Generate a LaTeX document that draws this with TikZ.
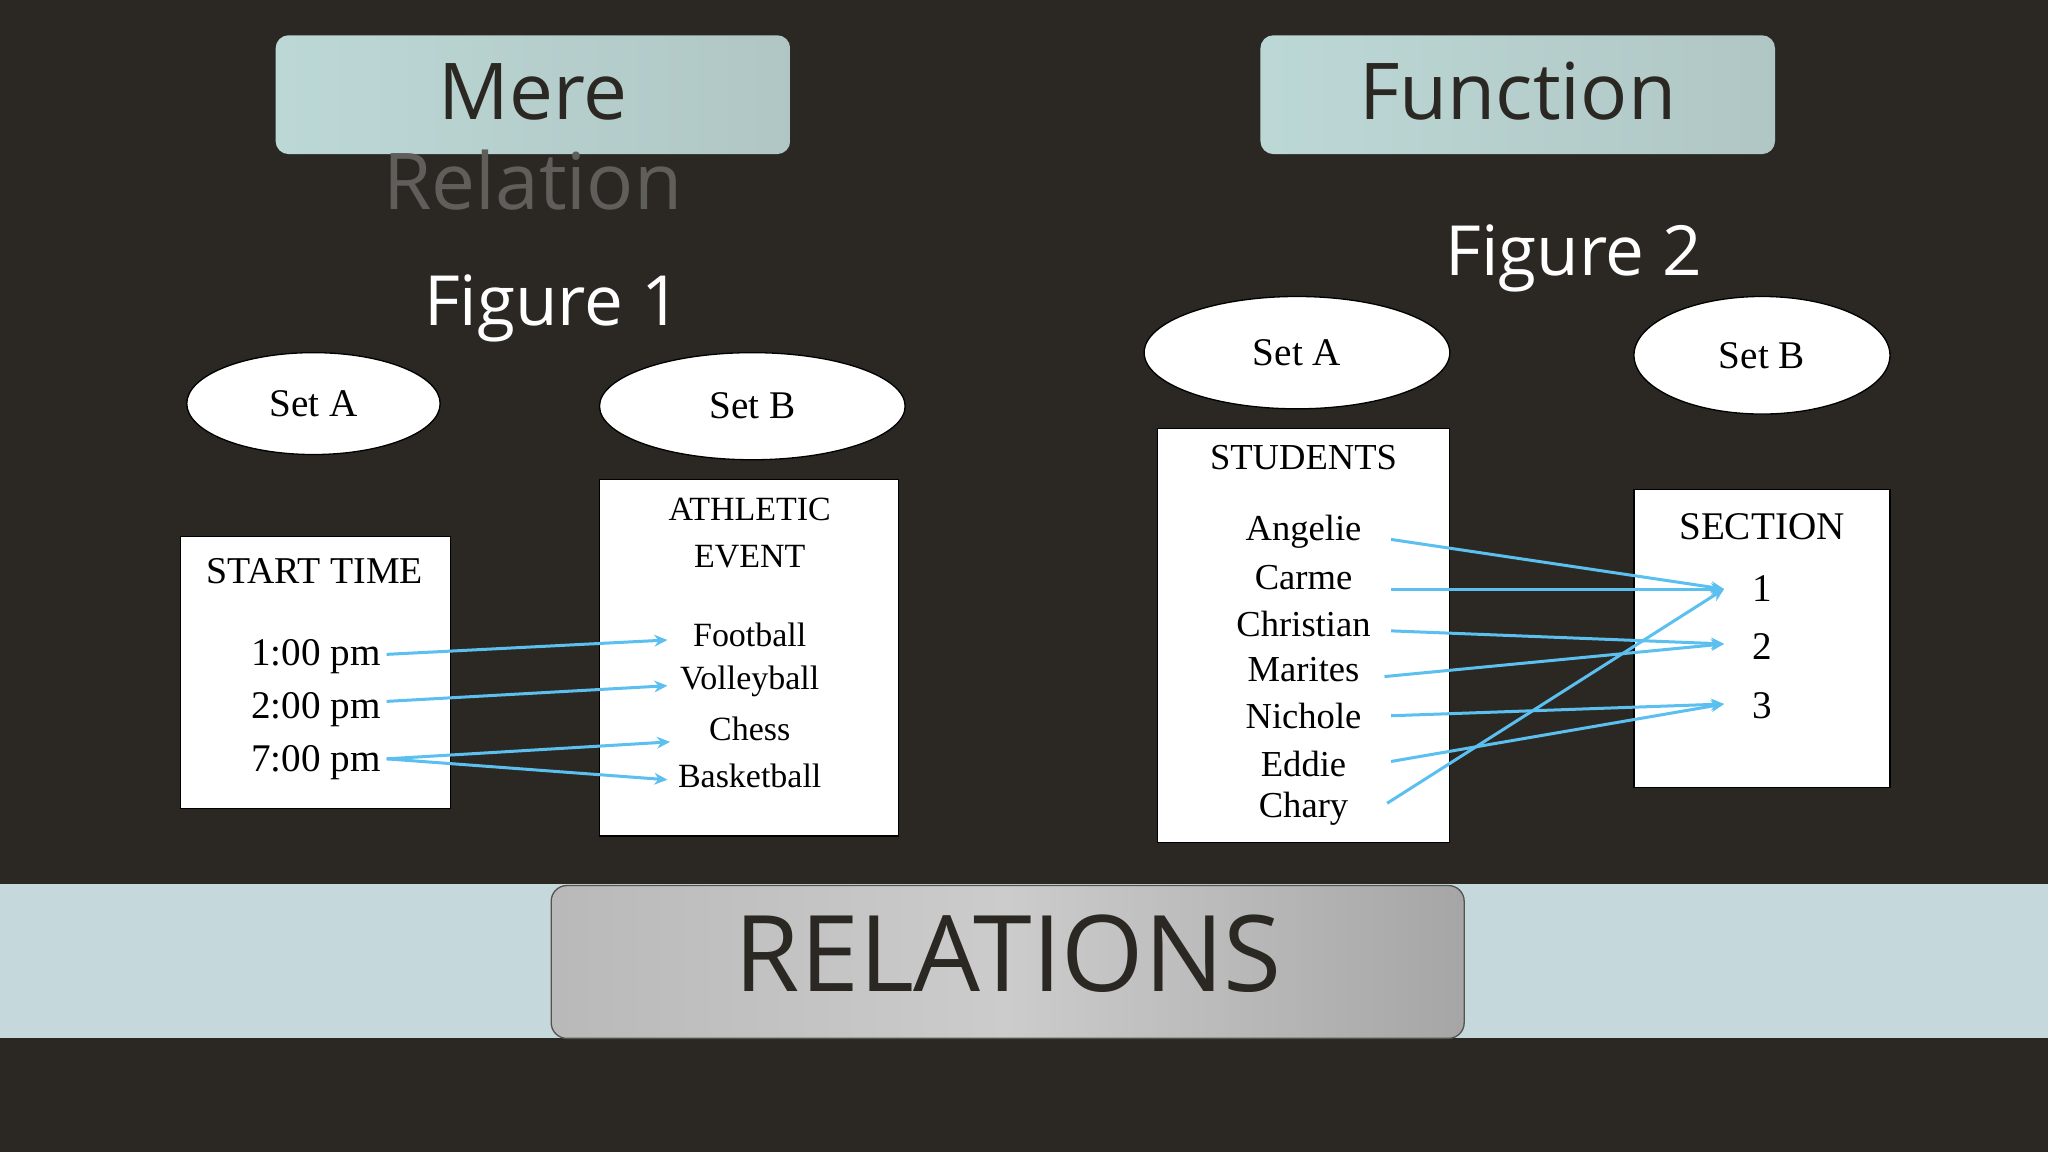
\documentclass[tikz,border=0pt]{standalone}
\usepackage{fontspec}
\setmainfont{Liberation Serif}
\newfontfamily\sansf{Open Sans}
\usetikzlibrary{arrows.meta,shapes.geometric}
\definecolor{bg}{HTML}{2B2823}
\definecolor{band}{HTML}{C5D9DC}
\definecolor{tealbox}{HTML}{BCD8D6}
\definecolor{arr}{HTML}{5BC0F0}
\begin{document}
\begin{tikzpicture}[x=1pt,y=-1pt,
  set/.style={ellipse,draw=black,fill=white,line width=1pt,inner sep=0pt},
  box/.style={draw=black,fill=white,line width=1pt},
  ttl/.style={rounded corners=10pt,draw=none},
  lbl/.style={font=\fontsize{30}{30}\selectfont,text=black},
  ent/.style={font=\fontsize{26}{26}\selectfont,text=black},
  fig/.style={font=\sansf\fontsize{53}{53}\selectfont,text=white},
  ar/.style={draw=arr,line width=2.3pt,-{Stealth[length=10pt,width=9pt]}}]
\fill[bg] (0,0) rectangle (1568,882);
\useasboundingbox (0,0) rectangle (1568,882);
\fill[band] (0,677) rectangle (1568,795);
\shade[rounded corners=12pt,left color=gray!55,right color=gray!70,middle color=gray!40,draw=bg!80,line width=1pt] (422,678) rectangle (1121,795);
\node[font=\sansf\fontsize{81}{81}\selectfont,text=bg] (rel) at (772,730) {RELATIONS};
% title boxes
\shade[ttl,left color=tealbox,right color=tealbox!80!gray] (211,27) rectangle (605,118);
\shade[ttl,left color=tealbox,right color=tealbox!80!gray] (965,27) rectangle (1359,118);
\node[font=\sansf\fontsize{60}{60}\selectfont,text=bg] (mere) at (408,70) {Mere};
\node[font=\sansf\fontsize{60}{60}\selectfont,text=bg!75!white] (relation) at (408,138) {Relation};
\node[font=\sansf\fontsize{60}{60}\selectfont,text=bg] (func) at (1162,70) {Function};
\node[fig] (f1) at (423,236) {Figure 1};
\node[fig] (f2) at (1205,198) {Figure 2};
% sets
\node[set,minimum width=194pt,minimum height=78pt,lbl] (a1) at (240,309) {Set A};
\node[set,minimum width=234pt,minimum height=82pt,lbl] (b1) at (576,311) {Set B};
\node[set,minimum width=234pt,minimum height=86pt,lbl] (a2) at (993,270) {Set A};
\node[set,minimum width=196pt,minimum height=90pt,lbl] (b2) at (1349,272) {Set B};
% boxes
\draw[box] (138,411) rectangle (345,619);
\draw[box] (459,367) rectangle (688,640);
\draw[box] (886,328) rectangle (1110,645);
\draw[box] (1251,375) rectangle (1447,603);
\node[ent,font=\fontsize{29}{29}\selectfont] (st) at (241,437) {START TIME};
\node[ent,lbl] (t1) at (242,503) {1:00 pm};
\node[ent,lbl] (t2) at (242,543) {2:00 pm};
\node[ent,lbl] (t3) at (242,584) {7:00 pm};
\node[ent] (ath) at (574,390) {ATHLETIC};
\node[ent] (ev) at (574,426) {EVENT};
\node[ent] (fb) at (574,486) {Football};
\node[ent] (vb) at (574,522) {Volleyball};
\node[ent] (ch) at (574,558) {Chess};
\node[ent] (bb) at (574,594) {Basketball};
\node[ent,font=\fontsize{28}{28}\selectfont] (stu) at (998,350) {STUDENTS};
\node[ent,font=\fontsize{28}{28}\selectfont] (s1) at (998,407) {Angelie};
\node[ent,font=\fontsize{28}{28}\selectfont] (s2) at (998,442) {Carme};
\node[ent,font=\fontsize{28}{28}\selectfont] (s3) at (998,478) {Christian};
\node[ent,font=\fontsize{28}{28}\selectfont] (s4) at (998,513) {Marites};
\node[ent,font=\fontsize{28}{28}\selectfont] (s5) at (998,548) {Nichole};
\node[ent,font=\fontsize{28}{28}\selectfont] (s6) at (998,585) {Eddie};
\node[ent,font=\fontsize{28}{28}\selectfont] (s7) at (998,619) {Chary};
\node[lbl] (sec) at (1349,403) {SECTION};
\node[lbl] (n1) at (1349,451) {1};
\node[lbl] (n2) at (1349,495) {2};
\node[lbl] (n3) at (1349,540) {3};
% arrow end coordinates
\coordinate (p1) at (296,501); \coordinate (q1) at (511,490);
\coordinate (p2) at (296,537); \coordinate (q2) at (511,525);
\coordinate (p3) at (296,581); \coordinate (q3) at (513,568); \coordinate (q4) at (511,597);
\draw[ar] (p1) -- (q1);
\draw[ar] (p2) -- (q2);
\draw[ar] (p3) -- (q3);
\draw[ar] (p3) -- (q4);
\coordinate (e1) at (1320,451); \coordinate (e2) at (1320,493); \coordinate (e3) at (1320,539);
\coordinate (c1) at (1065,413); \coordinate (c2) at (1065,451); \coordinate (c3) at (1065,483);
\coordinate (c4) at (1060,518); \coordinate (c5) at (1065,548); \coordinate (c6) at (1065,583);
\coordinate (c7) at (1062,615);
\draw[ar] (c1) -- (e1);
\draw[ar] (c2) -- (e1);
\draw[ar] (c3) -- (e2);
\draw[ar] (c4) -- (e2);
\draw[ar] (c5) -- (e3);
\draw[ar] (c6) -- (e3);
\draw[ar] (c7) -- (e1);
\end{tikzpicture}
\end{document}
